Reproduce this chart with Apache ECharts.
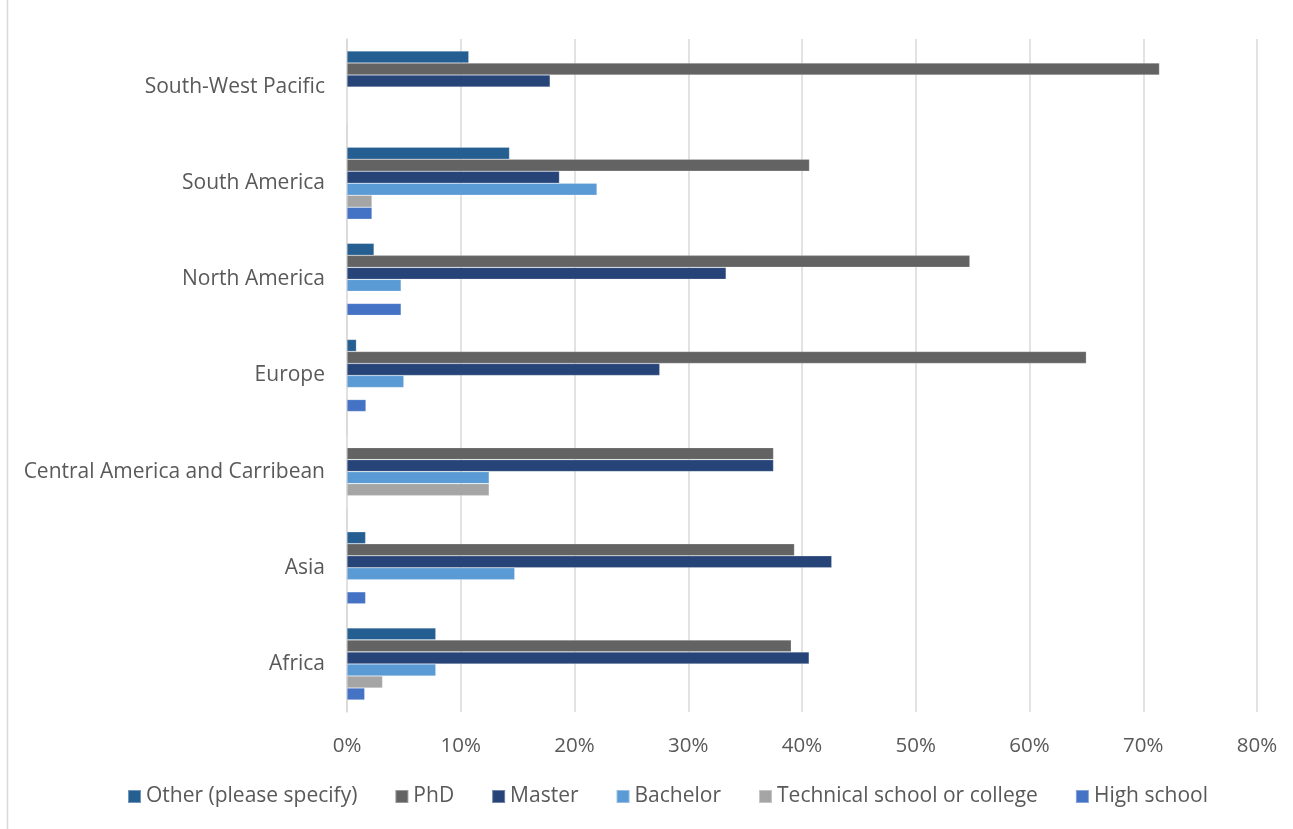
<!DOCTYPE html>
<html>
<head>
<meta charset="utf-8">
<script src="https://cdn.jsdelivr.net/npm/echarts@6/dist/echarts.min.js"></script>
<style>
  html, body { margin: 0; padding: 0; background: #fff; }
  #chart { width: 1293px; height: 829px; }
</style>
</head>
<body>
<div id="chart"></div>
<script>
// Regions, bottom to top on the category axis
const regions = [
  'Africa',
  'Asia',
  'Central America and Carribean',
  'Europe',
  'North America',
  'South America',
  'South-West Pacific'
];

// Share of respondents (%) by highest education level, per region
const otherSpecify = [7.81, 1.64, 0, 0.83, 2.38, 14.29, 10.71];
const phd          = [39.06, 39.34, 37.5, 65.0, 54.76, 40.66, 71.43];
const master       = [40.63, 42.62, 37.5, 27.5, 33.33, 18.68, 17.86];
const bachelor     = [7.81, 14.75, 12.5, 5.0, 4.76, 21.98, 0];
const technical    = [3.13, 0, 12.5, 0, 0, 2.2, 0];
const highSchool   = [1.56, 1.64, 0, 1.67, 4.76, 2.2, 0];

const seriesNames = [
  'Other (please specify)',
  'PhD',
  'Master',
  'Bachelor',
  'Technical school or college',
  'High school'
];
const seriesValues = [otherSpecify, phd, master, bachelor, technical, highSchool];
const seriesColors = ['#255E91', '#636363', '#264478', '#5B9BD5', '#A5A5A5', '#4472C4'];

const textColor = '#595959';
const fontFamily = '"Open Sans", "Noto Sans", sans-serif';

const chart = echarts.init(document.getElementById('chart'), null, { renderer: 'canvas' });

chart.setOption({
  backgroundColor: '#ffffff',
  animation: false,
  color: seriesColors,
  grid: { left: 347, right: 36, top: 39, bottom: 117, containLabel: false },
  legend: {
    data: seriesNames,
    bottom: 17,
    left: 122,
    itemWidth: 13,
    itemHeight: 13,
    itemGap: 37,
    icon: 'rect',
    textStyle: { color: textColor, fontSize: 21, fontFamily: fontFamily, padding: [0, 0, 0, 0] }
  },
  xAxis: {
    type: 'value',
    min: 0,
    max: 80,
    interval: 10,
    axisLine: { show: false },
    axisTick: { show: false },
    splitLine: { show: true, lineStyle: { color: '#D9D9D9', width: 1.5 } },
    axisLabel: {
      formatter: '{value}%',
      color: textColor,
      fontSize: 20.5,
      fontFamily: fontFamily,
      margin: 24
    }
  },
  yAxis: {
    type: 'category',
    data: regions,
    axisLine: { show: true, lineStyle: { color: '#D9D9D9', width: 1.5 } },
    axisTick: { show: false },
    axisLabel: { color: textColor, fontSize: 21, fontFamily: fontFamily, margin: 22 }
  },
  series: seriesNames.map((name, i) => ({
    name: name,
    type: 'bar',
    data: seriesValues[i],
    barGap: '0%',
    barCategoryGap: '25%',
    itemStyle: { color: seriesColors[i], borderColor: 'rgba(255,255,255,0.35)', borderWidth: 0.6 }
  })),
  graphic: [
    {
      type: 'line',
      shape: { x1: 7.5, y1: 0, x2: 7.5, y2: 829 },
      style: { stroke: '#D9D9D9', lineWidth: 1.5 },
      silent: true
    }
  ]
});
</script>
</body>
</html>
